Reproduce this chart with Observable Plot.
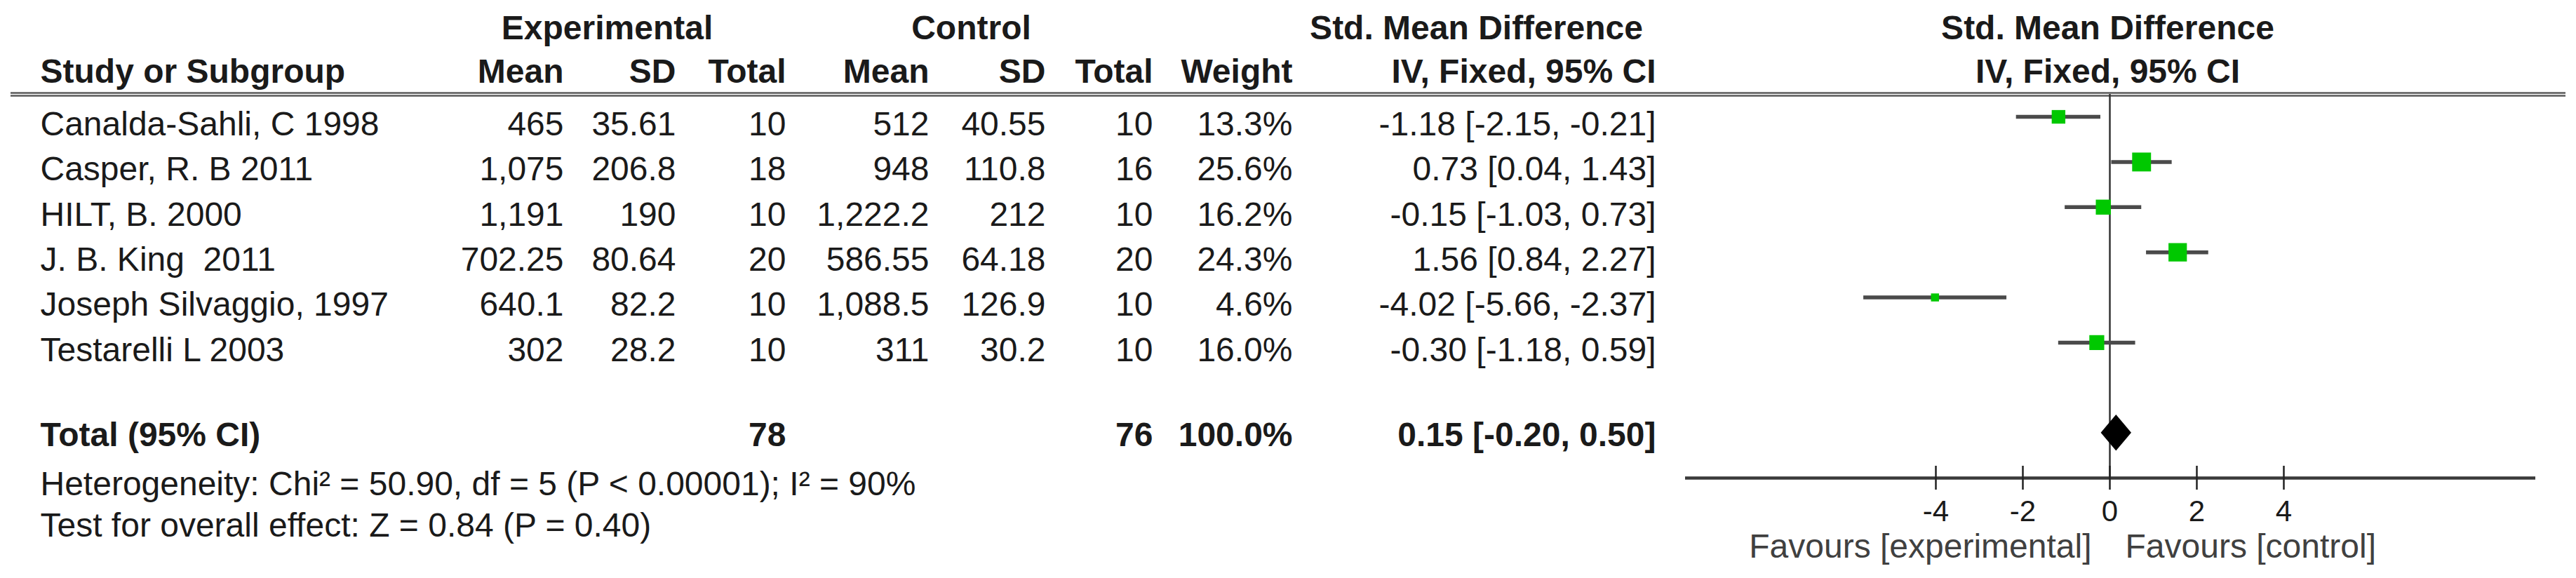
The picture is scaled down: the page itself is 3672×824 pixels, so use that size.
<!DOCTYPE html>
<html><head><meta charset="utf-8">
<script src="https://cdn.jsdelivr.net/npm/d3@7"></script>
<script src="https://cdn.jsdelivr.net/npm/@observablehq/plot@0.6"></script>
<style>
html,body{margin:0;padding:0;background:#fff;}
svg text{white-space:pre;}
</style></head><body><div id="chart"></div>
<script>
// ---- data ----
const studies = ["Canalda-Sahli, C 1998", "Casper, R. B 2011", "HILT, B. 2000", "J. B. King  2011", "Joseph Silvaggio, 1997", "Testarelli L 2003"];
const expMean = [465, 1075, 1191, 702.25, 640.1, 302];
const expSD = [35.61, 206.8, 190, 80.64, 82.2, 28.2];
const expN = [10, 18, 10, 20, 10, 10];
const ctlMean = [512, 948, 1222.2, 586.55, 1088.5, 311];
const ctlSD = [40.55, 110.8, 212, 64.18, 126.9, 30.2];
const ctlN = [10, 16, 10, 20, 10, 10];
const weight = [13.3, 25.6, 16.2, 24.3, 4.6, 16.0];
const smd = [-1.18, 0.73, -0.15, 1.56, -4.02, -0.30];
const ciLow = [-2.15, 0.04, -1.03, 0.84, -5.66, -1.18];
const ciHigh = [-0.21, 1.43, 0.73, 2.27, -2.37, 0.59];
const totalLabel = "Total (95% CI)";
const totalExpN = 78, totalCtlN = 76, totalWeight = 100.0;
const totalSmd = 0.15, totalLow = -0.20, totalHigh = 0.50;
const heterogeneity = "Heterogeneity: Chi² = 50.90, df = 5 (P < 0.00001); I² = 90%";
const overallEffect = "Test for overall effect: Z = 0.84 (P = 0.40)";
const xTicks = [-4, -2, 0, 2, 4];
const favours = ["Favours [experimental]", "Favours [control]"];
const groupHeaders = ["Experimental", "Control", "Std. Mean Difference"];
const columnHeaders = ["Study or Subgroup", "Mean", "SD", "Total", "Mean", "SD", "Total", "Weight", "IV, Fixed, 95% CI"];
const plotHeaders = ["Std. Mean Difference", "IV, Fixed, 95% CI"];

// ---- layout ----
const W = 3672, H = 824, FS = 48;
const studyLeft = 57;
const groupCenters = [865, 1384, 2104];
const colRights = [803, 963, 1120, 1324, 1490, 1643, 1842, 2360];
const totalRow = studies.length + 2, axisRow = totalRow + 1;
const ink = "#1a1a1a";

const fmt = v => v.toLocaleString("en-US", {maximumFractionDigits: 3});
const ciText = (e, l, h) => `${e.toFixed(2)} [${l.toFixed(2)}, ${h.toFixed(2)}]`;

const rows = studies.map((s, i) => ({
  study: s, row: i + 1, expMean: expMean[i], expSD: expSD[i], expN: expN[i],
  ctlMean: ctlMean[i], ctlSD: ctlSD[i], ctlN: ctlN[i], weight: weight[i],
  smd: smd[i], lo: ciLow[i], hi: ciHigh[i]
}));
const total = {row: totalRow, label: totalLabel, expN: totalExpN, ctlN: totalCtlN, weight: totalWeight, smd: totalSmd, lo: totalLow, hi: totalHigh};
const diamondHalf = 0.4;
const diamond = [
  {x: totalLow, y1: totalRow, y2: totalRow},
  {x: totalSmd, y1: totalRow - diamondHalf, y2: totalRow + diamondHalf},
  {x: totalHigh, y1: totalRow, y2: totalRow}
];

const cols = [
  d => fmt(d.expMean), d => fmt(d.expSD), d => String(d.expN),
  d => fmt(d.ctlMean), d => fmt(d.ctlSD), d => String(d.ctlN),
  d => d.weight.toFixed(1) + "%", d => ciText(d.smd, d.lo, d.hi)
];
const totalCols = [
  [d => String(d.expN), colRights[2]], [d => String(d.ctlN), colRights[5]],
  [d => d.weight.toFixed(1) + "%", colRights[6]], [d => ciText(d.smd, d.lo, d.hi), colRights[7]]
];

const base = {frameAnchor: "left", fontSize: FS, fill: ink};
const marks = [
  // header double rule
  Plot.ruleY([0.5], {stroke: "#5a5a5a", strokeWidth: 2.5, insetLeft: 15, insetRight: 15, dy: -2}),
  Plot.ruleY([0.5], {stroke: "#5a5a5a", strokeWidth: 2.5, insetLeft: 15, insetRight: 15, dy: 2})
];
// group headers
groupHeaders.forEach((g, i) => marks.push(Plot.text([g], {...base, text: d => d, y: -1, dx: groupCenters[i], dy: 3, textAnchor: "middle", fontWeight: "bold"})));
// column headers
marks.push(Plot.text([columnHeaders[0]], {...base, text: d => d, y: 0, dx: studyLeft, textAnchor: "start", fontWeight: "bold"}));
columnHeaders.slice(1).forEach((h, i) => marks.push(Plot.text([h], {...base, text: d => d, y: 0, dx: colRights[i], textAnchor: "end", fontWeight: "bold"})));
// plot headers
plotHeaders.forEach((h, i) => marks.push(Plot.text([h], {text: d => d, x: 0, dx: -3, y: i - 1, dy: i === 0 ? 3 : 0, fontSize: FS, fill: ink, textAnchor: "middle", fontWeight: "bold"})));
// study rows
marks.push(Plot.text(rows, {...base, y: "row", text: "study", dx: studyLeft, dy: 11, textAnchor: "start"}));
cols.forEach((c, i) => marks.push(Plot.text(rows, {...base, y: "row", text: c, dx: colRights[i], dy: 11, textAnchor: "end"})));
// total row
marks.push(Plot.text([total], {...base, y: "row", text: "label", dx: studyLeft, dy: 3, textAnchor: "start", fontWeight: "bold"}));
totalCols.forEach(([c, r]) => marks.push(Plot.text([total], {...base, y: "row", text: c, dx: r, dy: 3, textAnchor: "end", fontWeight: "bold"})));
// footnotes
marks.push(Plot.text([heterogeneity], {...base, text: d => d, y: axisRow, dx: studyLeft, dy: 9, textAnchor: "start"}));
marks.push(Plot.text([overallEffect], {...base, text: d => d, y: axisRow + 1, dx: studyLeft, dy: 4, textAnchor: "start"}));
// forest plot
marks.push(
  Plot.ruleX([0], {y1: 0.5, y2: axisRow, stroke: "#333", strokeWidth: 2.5}),
  Plot.ruleY(rows, {y: "row", x1: "lo", x2: "hi", stroke: "#4a4a4a", strokeWidth: 5.5}),
  Plot.dot(rows, {x: "smd", y: "row", r: "weight", symbol: "square", fill: "#00c800", stroke: "none"}),
  Plot.areaY(diamond, {x: "x", y1: "y1", y2: "y2", fill: "#000"}),
  Plot.ruleY([axisRow], {x1: -10, x2: 10, insetLeft: 15, insetRight: 13, stroke: "#3a3a3a", strokeWidth: 4.5}),
  Plot.ruleX(xTicks, {x: d => d, y1: axisRow, y2: axisRow, insetTop: -17, insetBottom: -17, stroke: "#222", strokeWidth: 2.5}),
  Plot.text(xTicks, {x: d => d, y: axisRow, dy: 48, text: d => String(d), fontSize: 42, fill: ink}),
  Plot.text([favours[0]], {x: 0, y: axisRow, text: d => d, dx: -26, dy: 98, textAnchor: "end", fontSize: FS, fill: "#404040"}),
  Plot.text([favours[1]], {x: 0, y: axisRow, text: d => d, dx: 22, dy: 98, textAnchor: "start", fontSize: FS, fill: "#404040"})
);

const chart = Plot.plot({
  width: W, height: H, margin: 0,
  x: {domain: [-10, 10], range: [2387, 3627], axis: null},
  y: {domain: [0, 9], range: [101.7, 681], axis: null},
  r: {type: "sqrt", domain: [0, 100], range: [0, 30]},
  style: {fontFamily: "'Liberation Sans', Arial, sans-serif", background: "#fff", color: ink},
  marks
});
document.getElementById("chart").append(chart);
</script></body></html>
